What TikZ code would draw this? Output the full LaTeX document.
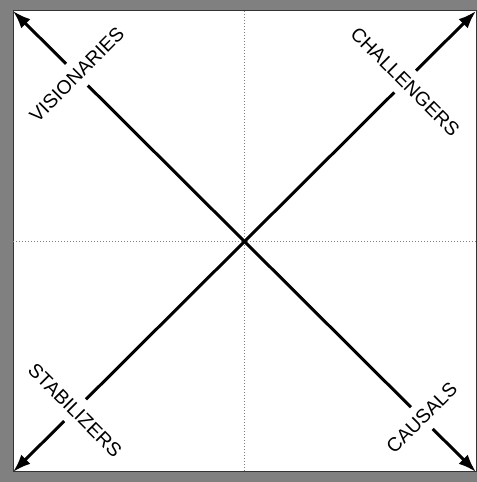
\documentclass[tikz,border=0pt]{standalone}
\usepackage{fontspec}
\setmainfont{Liberation Sans}
\usetikzlibrary{arrows.meta,calc}
\definecolor{framegray}{RGB}{128,128,128}

\begin{document}
\begin{tikzpicture}[x=1bp, y=1bp,
    axis/.style={line width=3bp, black},
    tipped/.style={axis, -{Latex[length=18bp,width=13bp]}},
    grid/.style={framegray, line width=0.9bp, dash pattern=on 1bp off 2bp},
    quad/.style={font=\fontsize{19.5}{22}\selectfont, inner xsep=1bp, inner ysep=8.5bp, outer sep=0pt}]
% Frame and panel
\useasboundingbox (0,0) rectangle (477,482);
\fill[framegray] (0,0) rectangle (477,482);
\filldraw[fill=white, draw=black!80, line width=1bp] (13,10) rectangle (476,471);

% Corners of the panel
\coordinate (tl) at (13,471);
\coordinate (tr) at (476,471);
\coordinate (bl) at (13,10);
\coordinate (br) at (476,10);

% Quadrant guides
\coordinate (top) at ($(tl)!0.5!(tr)$);
\coordinate (bot) at ($(bl)!0.5!(br)$);
\coordinate (lft) at ($(tl)!0.5!(bl)$);
\coordinate (rgt) at ($(tr)!0.5!(br)$);
\draw[grid] (top) -- (bot);
\draw[grid] (lft) -- (rgt);

% Labels on the diagonals
\node[quad, rotate=45] (vis) at ($(tl)!0.138!(br)$) {VISIONARIES};
\node[quad, rotate=-45] (cha) at ($(tr)!0.153!(bl)$) {CHALLENGERS};
\node[quad, rotate=-45] (sta) at ($(bl)!0.134!(tr)$) {STABILIZERS};
\node[quad, rotate=45] (cau) at ($(br)!0.117!(tl)$) {CAUSALS};

% Diagonals
\draw[tipped] (vis) -- (tl);
\draw[axis] (vis) -- (cau);
\draw[tipped] (cau) -- (br);
\draw[tipped] (sta) -- (bl);
\draw[axis] (sta) -- (cha);
\draw[tipped] (cha) -- (tr);
\end{tikzpicture}
\end{document}
